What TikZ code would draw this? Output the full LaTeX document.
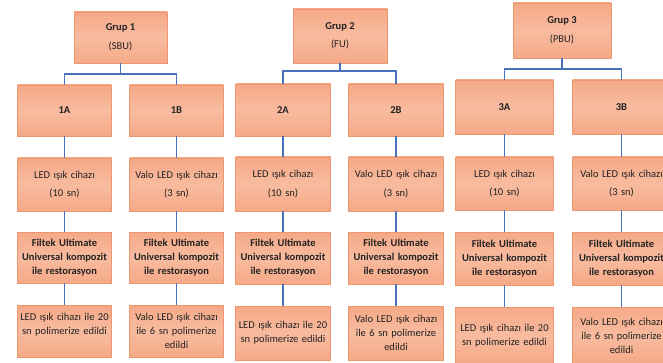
\documentclass[tikz,border=0pt]{standalone}
\usepackage{fontspec}
\setmainfont{Carlito}
\definecolor{boxfill}{HTML}{F5A987}
\definecolor{boxmid}{HTML}{F8BB9F}
\definecolor{boxline}{HTML}{EE9670}
\definecolor{conncol}{HTML}{4A72B8}
\definecolor{txt}{HTML}{222222}
\tikzset{
  box/.style={draw=boxline, line width=0.8pt, top color=boxfill, bottom color=boxfill, middle color=boxmid,
    inner sep=1pt, align=center, text=txt, font=\fontsize{10.5}{18.5}\selectfont},
  tight/.style={font=\fontsize{10.5}{14}\selectfont},
  conn/.style={draw=conncol, line width=1.6pt},
  w1/.style={minimum width=93pt, text width=92pt},
  w2/.style={minimum width=94pt, text width=93pt},
  w3/.style={minimum width=97pt, text width=96pt}
}
\begin{document}
\begin{tikzpicture}[x=1pt,y=-1pt]
\clip (0,0) rectangle (663,363);
\fill[white] (0,0) rectangle (663,363);
% group headers
\node[box, minimum width=93pt, minimum height=51pt] (g1) at (120.5,37.5) {\textbf{Grup 1}\\(SBU)};
\node[box, minimum width=94pt, minimum height=54pt] (g2) at (340,36) {\textbf{Grup 2}\\(FU)};
\node[box, minimum width=98pt, minimum height=55pt] (g3) at (562,30.5) {\textbf{Grup 3}\\(PBU)};
% group 1
\node[box,w1,minimum height=51pt] (a1) at (64.5,110.5) {\textbf{1A}};
\node[box,w1,minimum height=51pt] (b1) at (176.5,110.5) {\textbf{1B}};
\node[box,w1,minimum height=53pt] (a2) at (64.5,184.5) {LED ışık cihazı\\(10 sn)};
\node[box,w1,minimum height=53pt] (b2) at (176.5,184.5) {Valo LED ışık cihazı\\(3 sn)};
\node[box,w1,tight,minimum height=51pt] (a3) at (64.5,257.5) {\textbf{Filtek Ultimate}\\\textbf{Universal kompozit}\\\textbf{ile restorasyon}};
\node[box,w1,tight,minimum height=51pt] (b3) at (176.5,257.5) {\textbf{Filtek Ultimate}\\\textbf{Universal kompozit}\\\textbf{ile restorasyon}};
\node[box,w1,tight,minimum height=52pt] (a4) at (64.5,331) {LED ışık cihazı ile 20\\sn polimerize edildi\\\mbox{}};
\node[box,w1,tight,minimum height=52pt] (b4) at (176.5,331) {Valo LED ışık cihazı\\ile 6 sn polimerize\\edildi};
% group 2
\node[box,w2,minimum height=52pt] (c1) at (283,110) {\textbf{2A}};
\node[box,w2,minimum height=52pt] (d1) at (396,110) {\textbf{2B}};
\node[box,w2,minimum height=54pt] (c2) at (283,184) {LED ışık cihazı\\(10 sn)};
\node[box,w2,minimum height=54pt] (d2) at (396,184) {Valo LED ışık cihazı\\(3 sn)};
\node[box,w2,tight,minimum height=52pt] (c3) at (283,258) {\textbf{Filtek Ultimate}\\\textbf{Universal kompozit}\\\textbf{ile restorasyon}};
\node[box,w2,tight,minimum height=52pt] (d3) at (396,258) {\textbf{Filtek Ultimate}\\\textbf{Universal kompozit}\\\textbf{ile restorasyon}};
\node[box,w2,tight,minimum height=54pt] (c4) at (283,333) {LED ışık cihazı ile 20\\sn polimerize edildi};
\node[box,w2,tight,minimum height=54pt] (d4) at (396,333) {Valo LED ışık cihazı\\ile 6 sn polimerize\\edildi};
% group 3
\node[box,w3,minimum height=54pt] (e1) at (504.5,107) {\textbf{3A}};
\node[box,w3,minimum height=54pt] (f1) at (621.5,107) {\textbf{3B}};
\node[box,w3,minimum height=53pt] (e2) at (504.5,183.5) {LED ışık cihazı\\(10 sn)};
\node[box,w3,minimum height=53pt] (f2) at (621.5,183.5) {Valo LED ışık cihazı\\(3 sn)};
\node[box,w3,tight,minimum height=53pt] (e3) at (504.5,258.5) {\textbf{Filtek Ultimate}\\\textbf{Universal kompozit}\\\textbf{ile restorasyon}};
\node[box,w3,tight,minimum height=53pt] (f3) at (621.5,258.5) {\textbf{Filtek Ultimate}\\\textbf{Universal kompozit}\\\textbf{ile restorasyon}};
\node[box,w3,tight,minimum height=57pt] (e4) at (504.5,335.5) {LED ışık cihazı ile 20\\sn polimerize edildi};
\node[box,w3,tight,minimum height=57pt] (f4) at (621.5,335.5) {Valo LED ışık cihazı\\ile 6 sn polimerize\\edildi};
% junctions
\coordinate (j1) at (120.5,74);
\coordinate (j2) at (340,71);
\coordinate (j3) at (562,69);
% connectors
\draw[conn] (g1.south) -- (g1.south |- j1);
\draw[conn] (a1.north) |- (j1) -| (b1.north);
\draw[conn] (g2.south) -- (g2.south |- j2);
\draw[conn] (c1.north) |- (j2) -| (d1.north);
\draw[conn] (g3.south) -- (g3.south |- j3);
\draw[conn] (e1.north) |- (j3) -| (f1.north);
\foreach \p in {a,b,c,d,e,f}{
  \draw[conn] (\p1.south) -- (\p2.north);
  \draw[conn] (\p2.south) -- (\p3.north);
  \draw[conn] (\p3.south) -- (\p4.north);
}
\end{tikzpicture}
\end{document}
